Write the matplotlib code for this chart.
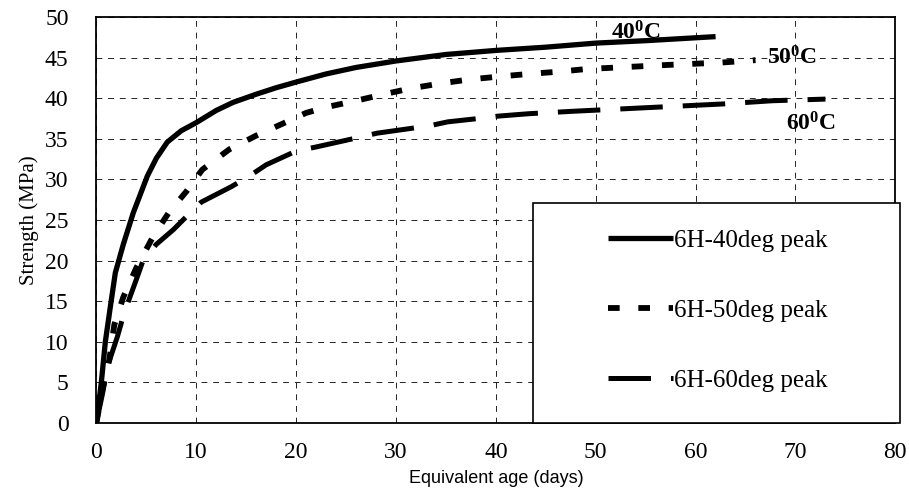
import matplotlib
matplotlib.use("Agg")
import matplotlib.pyplot as plt
from matplotlib.patches import Rectangle

plt.rcParams['font.family'] = ['Liberation Serif', 'DejaVu Serif']
plt.rcParams['mathtext.fontset'] = 'custom'
plt.rcParams['mathtext.rm'] = 'Liberation Serif'
plt.rcParams['mathtext.bf'] = 'Liberation Serif:bold'

# strength development curves
age_40 = [0, 0.5, 0.9, 1.4, 1.9, 2.7, 3.7, 5.1, 6, 7.1, 8.5, 10, 12, 13.7, 16, 18, 20,
          23, 26, 30, 35, 40, 45, 50, 55, 62]
str_40 = [0, 5, 10, 14.3, 18.5, 22, 25.9, 30.4, 32.6, 34.6, 36, 37, 38.5, 39.5, 40.5, 41.3, 42,
          43, 43.8, 44.6, 45.4, 45.9, 46.3, 46.8, 47.1, 47.6]

age_50 = [0, 0.6, 1.3, 1.8, 2.7, 4, 5.7, 7.3, 9, 10.6, 13.3, 16, 18.7, 21, 23, 26, 28.8,
          31.4, 34.3, 37.2, 40.5, 43.3, 46.5, 49, 57, 62.5, 66]
str_50 = [0, 4, 7.8, 12.1, 15.5, 19.1, 23, 26, 28.5, 31.2, 33.7, 35.4, 36.9, 38.2, 38.9, 39.7, 40.5,
          41.2, 41.8, 42.3, 42.7, 43, 43.3, 43.6, 44.1, 44.4, 44.7]

age_60 = [0, 0.6, 1.1, 2.1, 2.8, 4.1, 4.7, 6, 7.7, 9, 10.5, 13.5, 15.3, 17, 20, 22, 26, 28.1,
          33.3, 35.2, 38.2, 40.2, 43.3, 47.7, 52.7, 57.7, 62.7, 67.7, 73]
str_60 = [0, 3.5, 6.9, 10.6, 13.6, 18, 20.1, 22, 23.8, 25.4, 27.2, 29.1, 30.4, 31.8, 33.5, 34, 35.1, 35.7,
          36.6, 37.1, 37.5, 37.8, 38.1, 38.4, 38.7, 39, 39.3, 39.7, 39.9]

labels = ['6H-40deg peak', '6H-50deg peak', '6H-60deg peak']
x_ticks = [0, 10, 20, 30, 40, 50, 60, 70, 80]
y_ticks = [0, 5, 10, 15, 20, 25, 30, 35, 40, 45, 50]

fig = plt.figure(figsize=(9.09, 4.9), dpi=100)
ax = fig.add_axes([0.106, 0.137, 0.879, 0.828])

ax.plot(age_40, str_40, color='black', lw=3.8, solid_capstyle='butt', label=labels[0])
ax.plot(age_50, str_50, color='black', lw=4.2, dashes=(2.0, 3.2), dash_capstyle='butt', label=labels[1])
ax.plot(age_60, str_60, color='black', lw=3.6, dashes=(8.5, 4), dash_capstyle='butt', label=labels[2])

ax.set_xlim(0, 80)
ax.set_ylim(0, 50)
ax.set_xticks(x_ticks)
ax.set_yticks(y_ticks)
ax.tick_params(length=0, labelsize=17)
ax.tick_params(axis='x', pad=14)
ax.tick_params(axis='y', pad=20)
ax.grid(True, color='#222222', lw=0.7, linestyle=(0, (6, 6)))
for s in ax.spines.values():
    s.set_linewidth(1.3)

ax.set_xlabel('Equivalent age (days)', family=['Liberation Sans'], fontsize=13, labelpad=5)
ax.set_ylabel('Strength (MPa)', fontsize=15, labelpad=4)

# temperature tags
ax.text(54, 48.1, r'$\mathbf{40^{0}C}$', fontsize=17, ha='center', va='center')
ax.text(69.6, 45.0, r'$\mathbf{50^{0}C}$', fontsize=17, ha='center', va='center')
ax.text(71.5, 36.9, r'$\mathbf{60^{0}C}$', fontsize=17, ha='center', va='center')

# legend box drawn by hand, legend itself frameless
ax.add_patch(Rectangle((0.546, 0.0), 0.46, 0.542, transform=ax.transAxes,
                       facecolor='white', edgecolor='black', lw=1.2, clip_on=False, zorder=3))
leg = ax.legend(loc='center', bbox_to_anchor=(0.778, 0.276), frameon=False, fontsize=18,
                labelspacing=1.9, handlelength=2.6, handletextpad=0.05)
leg.set_zorder(4)

fig.savefig('out.png', dpi=100)
